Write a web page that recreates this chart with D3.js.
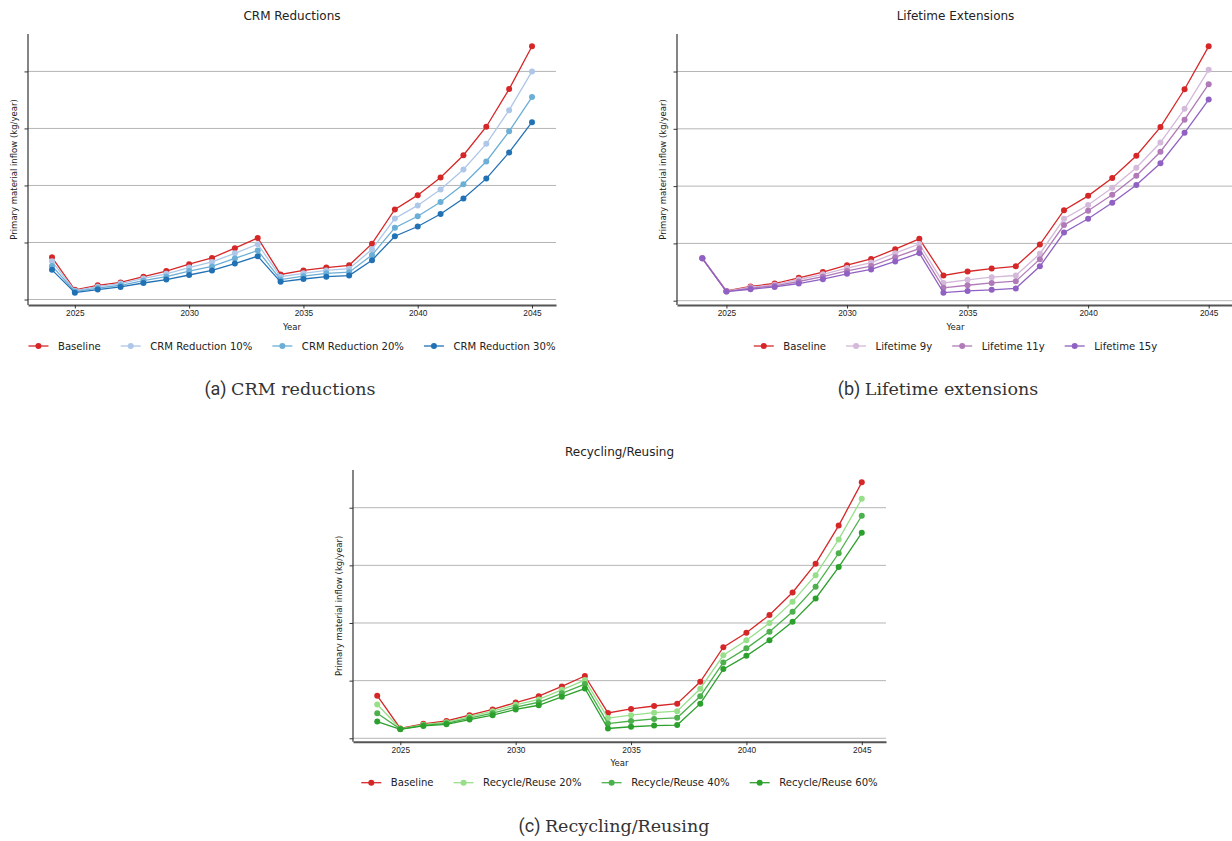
<!DOCTYPE html>
<html>
<head>
<meta charset="utf-8">
<script src="https://cdn.jsdelivr.net/npm/d3@7"></script>
<style>
  body { margin: 0; background: #fff; }
  svg { display: block; font-family: "DejaVu Sans", sans-serif; }
</style>
</head>
<body>
<script>
// years on the x axis
const years = [2024, 2025, 2026, 2027, 2028, 2029, 2030, 2031, 2032, 2033, 2034,
               2035, 2036, 2037, 2038, 2039, 2040, 2041, 2042, 2043, 2044, 2045];
const xTicks = [2025, 2030, 2035, 2040, 2045];
const yTicks = [0, 1, 2, 3, 4]; // unlabelled in the original

// values (one grid step = 1 unit)
const baseline  = [0.74, 0.17, 0.25, 0.30, 0.40, 0.50, 0.62, 0.73, 0.90, 1.08, 0.44,
                   0.51, 0.56, 0.60, 0.98, 1.58, 1.83, 2.14, 2.53, 3.03, 3.69, 4.44];
const crm10     = [0.67, 0.155, 0.225, 0.28, 0.37, 0.45, 0.56, 0.66, 0.81, 0.97, 0.40,
                   0.46, 0.51, 0.54, 0.88, 1.42, 1.65, 1.93, 2.28, 2.73, 3.32, 4.00];
const crm20     = [0.59, 0.14, 0.20, 0.25, 0.33, 0.40, 0.50, 0.58, 0.72, 0.86, 0.35,
                   0.41, 0.46, 0.48, 0.78, 1.26, 1.46, 1.71, 2.02, 2.42, 2.95, 3.55];
const crm30     = [0.52, 0.12, 0.175, 0.22, 0.29, 0.35, 0.43, 0.51, 0.63, 0.76, 0.31,
                   0.36, 0.40, 0.42, 0.69, 1.11, 1.28, 1.50, 1.77, 2.12, 2.58, 3.11];
const life9     = [0.74, 0.165, 0.235, 0.28, 0.37, 0.46, 0.57, 0.665, 0.83, 0.99, 0.31,
                   0.365, 0.41, 0.44, 0.82, 1.43, 1.67, 1.97, 2.32, 2.76, 3.35, 4.03];
const life11    = [0.74, 0.16, 0.22, 0.26, 0.335, 0.42, 0.52, 0.605, 0.76, 0.91, 0.225,
                   0.27, 0.31, 0.34, 0.725, 1.32, 1.57, 1.85, 2.18, 2.60, 3.16, 3.78];
const life15    = [0.74, 0.16, 0.20, 0.24, 0.30, 0.375, 0.47, 0.545, 0.685, 0.83, 0.14,
                   0.17, 0.19, 0.215, 0.60, 1.19, 1.43, 1.71, 2.02, 2.40, 2.93, 3.51];
const recycle20 = [0.585, 0.165, 0.235, 0.28, 0.375, 0.47, 0.58, 0.675, 0.84, 1.01, 0.35,
                   0.40, 0.445, 0.47, 0.86, 1.44, 1.70, 2.00, 2.37, 2.83, 3.45, 4.155];
const recycle40 = [0.435, 0.16, 0.225, 0.26, 0.35, 0.435, 0.54, 0.625, 0.78, 0.94, 0.255,
                   0.30, 0.335, 0.355, 0.73, 1.315, 1.56, 1.85, 2.195, 2.63, 3.21, 3.86];
const recycle60 = [0.29, 0.155, 0.215, 0.243, 0.325, 0.40, 0.50, 0.573, 0.72, 0.863, 0.17,
                   0.20, 0.22, 0.23, 0.60, 1.20, 1.43, 1.70, 2.02, 2.425, 2.97, 3.565];

const red = "#d62728";

const panels = [
  {
    title: "CRM Reductions", tag: "(a)", caption: "CRM reductions",
    left: 28, right: 556, top: 34, bottom: 305, capX: 290,
    series: [
      { name: "Baseline", color: red, values: baseline },
      { name: "CRM Reduction 10%", color: "#aec7e8", values: crm10 },
      { name: "CRM Reduction 20%", color: "#6baed6", values: crm20 },
      { name: "CRM Reduction 30%", color: "#2171b5", values: crm30 }
    ]
  },
  {
    title: "Lifetime Extensions", tag: "(b)", caption: "Lifetime extensions",
    left: 677, right: 1234, top: 34, bottom: 305, capX: 938,
    series: [
      { name: "Baseline", color: red, values: baseline },
      { name: "Lifetime 9y", color: "#d4b9da", values: life9 },
      { name: "Lifetime 11y", color: "#b07ab8", values: life11 },
      { name: "Lifetime 15y", color: "#9061c2", values: life15 }
    ]
  },
  {
    title: "Recycling/Reusing", tag: "(c)", caption: "Recycling/Reusing",
    left: 353, right: 886, top: 470, bottom: 741.7, capX: 614,
    series: [
      { name: "Baseline", color: red, values: baseline },
      { name: "Recycle/Reuse 20%", color: "#98df8a", values: recycle20 },
      { name: "Recycle/Reuse 40%", color: "#4cb04c", values: recycle40 },
      { name: "Recycle/Reuse 60%", color: "#2ca02c", values: recycle60 }
    ]
  }
];

const svg = d3.select("body").append("svg")
  .attr("width", 1232)
  .attr("height", 841);

function drawPanel(p) {
  const g = svg.append("g");

  const x = d3.scaleLinear()
    .domain([years[0] - 1.05, years[years.length - 1] + 1.05])
    .range([p.left, p.right]);

  const all = p.series.flatMap(s => s.values);
  const lo = d3.min(all), hi = d3.max(all), pad = (hi - lo) * 0.05;
  const y = d3.scaleLinear().domain([lo - pad, hi + pad]).range([p.bottom, p.top]);

  // horizontal grid
  g.append("g").selectAll("line").data(yTicks).join("line")
    .attr("x1", p.left).attr("x2", p.right)
    .attr("y1", d => y(d)).attr("y2", d => y(d))
    .attr("stroke", "#b5b5b5").attr("stroke-width", 1);

  // y axis: ticks only, no labels
  const ya = g.append("g").attr("transform", `translate(${p.left},0)`)
    .call(d3.axisLeft(y).tickValues(yTicks).tickFormat("").tickSizeInner(3.5).tickSizeOuter(0));
  ya.select(".domain").remove();
  ya.selectAll(".tick line").attr("stroke", "#333");
  g.append("line")
    .attr("x1", p.left).attr("x2", p.left).attr("y1", p.top).attr("y2", p.bottom)
    .attr("stroke", "#333").attr("stroke-width", 1.2);

  // x axis
  const xa = g.append("g").attr("transform", `translate(0,${p.bottom})`)
    .call(d3.axisBottom(x).tickValues(xTicks).tickFormat(d3.format("d")).tickSize(3.5).tickSizeOuter(0));
  xa.select(".domain").attr("stroke", "#555").attr("stroke-width", 2);
  xa.selectAll(".tick line").attr("stroke", "#333");
  xa.selectAll(".tick text").attr("font-size", 8.3).attr("fill", "#222").attr("dy", "0.6em");

  // lines + markers
  const line = d3.line().x((d, i) => x(years[i])).y(d => y(d));
  p.series.forEach(s => {
    g.append("path").datum(s.values)
      .attr("d", line).attr("fill", "none")
      .attr("stroke", s.color).attr("stroke-width", 1.3);
    g.append("g").selectAll("circle").data(s.values).join("circle")
      .attr("cx", (d, i) => x(years[i])).attr("cy", d => y(d))
      .attr("r", 3).attr("fill", s.color);
  });

  const cx = (p.left + p.right) / 2;

  g.append("text").attr("x", cx).attr("y", p.top - 14.5)
    .attr("text-anchor", "middle").attr("font-size", 12).attr("fill", "#222")
    .text(p.title);

  g.append("text").attr("x", cx).attr("y", p.bottom + 24.5)
    .attr("text-anchor", "middle").attr("font-size", 8.5).attr("fill", "#222")
    .text("Year");

  g.append("text")
    .attr("transform", `translate(${p.left - 14},${(p.top + p.bottom) / 2}) rotate(-90)`)
    .attr("text-anchor", "middle").attr("dominant-baseline", "central")
    .attr("font-size", 8.5).attr("fill", "#222")
    .text("Primary material inflow (kg/year)");

  // legend under the axes, centred
  const ly = p.bottom + 41;
  const leg = g.append("g");
  const items = leg.selectAll("g").data(p.series).join("g");
  items.append("line").attr("x1", 0).attr("x2", 20).attr("y1", 0).attr("y2", 0)
    .attr("stroke", d => d.color).attr("stroke-width", 1.3);
  items.append("circle").attr("cx", 10).attr("cy", 0).attr("r", 3).attr("fill", d => d.color);
  items.append("text").attr("x", 29.5).attr("y", 0).attr("dy", "0.35em")
    .attr("font-size", 10.1).attr("fill", "#222").text(d => d.name);
  let off = 0;
  items.each(function () {
    const w = 29.5 + this.querySelector("text").getComputedTextLength();
    d3.select(this).attr("data-off", off);
    off += w + 20;
  });
  const total = off - 20;
  items.attr("transform", function () {
    return `translate(${cx - total / 2 + (+this.getAttribute("data-off"))},${ly})`;
  });

  // caption below
  const cap = g.append("text").attr("x", p.capX).attr("y", p.bottom + 90)
    .attr("text-anchor", "middle").attr("fill", "#333");
  cap.append("tspan").attr("font-family", "Roboto, sans-serif").attr("font-size", 18)
    .text(p.tag + " ");
  cap.append("tspan").attr("font-family", "'DejaVu Serif', serif").attr("font-size", 17.5)
    .attr("font-weight", 300).text(p.caption);
}

panels.forEach(drawPanel);
</script>
</body>
</html>
